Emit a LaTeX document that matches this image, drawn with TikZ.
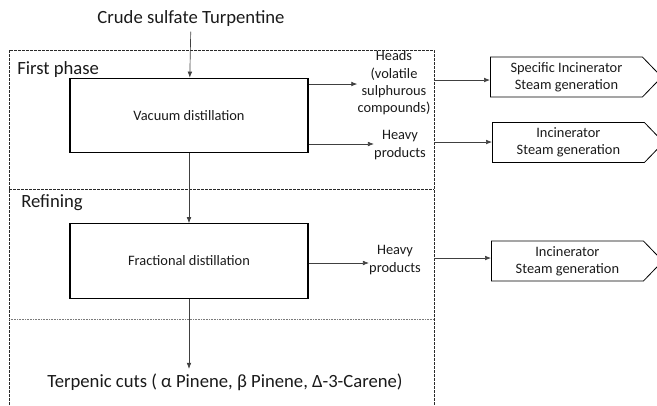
\documentclass[tikz,border=0pt]{standalone}
\usepackage{fontspec}
\setmainfont{Carlito}
\usepackage{xcolor}
\usepackage{tikz}
\usetikzlibrary{positioning, arrows.meta, shapes.symbols}
\definecolor{lineGray}{HTML}{404040}
\definecolor{frameGray}{HTML}{2A2A2A}
\definecolor{dotGray}{HTML}{7A7A7A}
\definecolor{textBlack}{HTML}{1A1A1A}
\newcommand{\bigtxt}{\fontsize{14}{17}\selectfont}
\newcommand{\smalltxt}{\fontsize{10.8}{13}\selectfont}

\begin{document}
\begin{tikzpicture}[x=0.75pt, y=-0.75pt,
    flow/.style={-{Latex[length=4.5pt, width=3.5pt]}, line width=0.5pt, color=lineGray},
    unitbox/.style={draw=black, line width=0.8pt, minimum width=178.5pt, minimum height=56pt, font=\smalltxt, text=textBlack},
    outbox/.style={draw=black, line width=0.6pt, signal, signal to=east, signal pointer angle=92,
      minimum width=128.5pt, minimum height=30pt, align=center, font=\smalltxt, text=textBlack, inner xsep=2pt},
    stream/.style={align=center, font=\smalltxt, text=textBlack, inner sep=0pt},
    phase/.style={font=\bigtxt, text=textBlack, anchor=west, inner sep=0pt}]
    \useasboundingbox (0,0) rectangle (657,405);
    % Process frame and phase dividers
    \draw[dash pattern=on 2pt off 1pt, line width=0.5pt, color=frameGray]
      (9,405) -- (9,50) -- (434,50) -- (434,405);
    \draw[dash pattern=on 2pt off 1pt, line width=0.5pt, color=frameGray] (9,189) -- (434,189);
    \draw[dash pattern=on 0.8pt off 0.4pt, line width=0.7pt, color=dotGray] (9,319) -- (434,319);
    \coordinate (frameR) at (434,50);
    % Feed
    \node[font=\bigtxt, text=textBlack] (feed) at (191,19) {Crude sulfate Turpentine};
    % First phase
    \node[phase] (first) at (17,70) {First phase};
    \node[unitbox] (vac) at (189,115.5) {Vacuum distillation};
    \node[stream] (heads) at (394,83) {Heads\\(volatile\\sulphurous\\compounds)};
    \node[stream] (heavyA) at (400,145) {Heavy\\products};
    % Refining
    \node[phase] (refin) at (21,203) {Refining};
    \node[unitbox] (frac) at (189,261) {Fractional distillation};
    \node[stream] (heavyB) at (395,260) {Heavy\\products};
    % Terpenic cuts
    \node[font=\bigtxt, text=textBlack] (cuts) at (225,382) {Terpenic cuts ( α Pinene, β Pinene, Δ-3-Carene)};
    % Destinations
    \node[outbox, anchor=west] (incS) at (490,77) {Specific Incinerator\\Steam generation};
    \node[outbox, anchor=west] (incA) at (492,142.5) {Incinerator\\Steam generation};
    \node[outbox, anchor=west] (incB) at (491,261) {Incinerator\\Steam generation};
    % Connectors
    \draw[flow] (feed) -- (vac);
    \draw[flow] (vac) -- (frac);
    \draw[flow] (frac.south) -- (frac.south |- cuts.north);
    \draw[flow] (vac.east |- 0,84) -- (heads.west |- 0,84);
    \draw[flow] (vac.east |- 0,144) -- (heavyA.west |- 0,144);
    \draw[flow] (frac.east |- 0,263) -- (heavyB.west |- 0,263);
    \draw[flow] (frameR |- 0,80) -- (incS.west |- 0,80);
    \draw[flow] (frameR |- 0,142) -- (incA.west |- 0,142);
    \draw[flow] (frameR |- 0,258) -- (incB.west |- 0,258);
\end{tikzpicture}
\end{document}
